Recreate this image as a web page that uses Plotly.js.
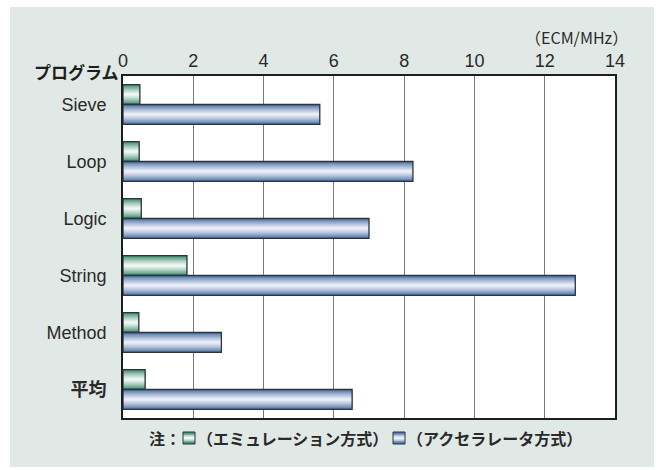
<!DOCTYPE html>
<html>
<head>
<meta charset="utf-8">
<script src="https://cdn.plot.ly/plotly-3.0.1.min.js"></script>
<style>html,body{margin:0;padding:0;background:#fff;}#chart{width:660px;height:470px;}</style>
</head>
<body>
<div id="chart"></div>
<script>
// ---- data ----
const categories = ['Sieve', 'Loop', 'Logic', 'String', 'Method', '平均'];
const categoryLabels = ['Sieve', 'Loop', 'Logic', 'String', 'Method', '<b>平均</b>'];
const emulation = [0.48, 0.46, 0.52, 1.82, 0.45, 0.63];
const accelerator = [5.60, 8.25, 7.00, 12.87, 2.80, 6.52];
const xTickValues = [0, 2, 4, 6, 8, 10, 12, 14];
const seriesNames = ['（エミュレーション方式）', '（アクセラレータ方式）'];

// ---- styling ----
const FONT = 'Liberation Sans, Arial, Noto Sans CJK JP, sans-serif';
const JFONT = 'Noto Sans CJK JP, Liberation Sans, sans-serif';
const TXT = '#2a2a2a';
const W = 0.35;
const N = 9;
const GREEN = ['3c8a6c', 'f0f7f3'];
const BLUE = ['4a6fa3', 'eaeef7'];
function mix(a, b, t) {
  const pa = a.match(/\w\w/g).map(h => parseInt(h, 16));
  const pb = b.match(/\w\w/g).map(h => parseInt(h, 16));
  const r = pa.map((v, i) => Math.round(v + (pb[i] - v) * t));
  return 'rgb(' + r.join(',') + ')';
}
function gradientTraces(values, baseOffset, cols, name) {
  const out = [];
  for (let k = 0; k < N; k++) {
    const t = k / (N - 1);
    const wk = W * (1 - k / N);
    out.push({
      type: 'bar', orientation: 'h', y: categories, x: values,
      offset: baseOffset + (W - wk) / 2, width: wk,
      marker: {color: mix(cols[0], cols[1], Math.pow(t, 0.8)), line: {width: 0}},
      name: name, showlegend: false, hoverinfo: 'skip'
    });
  }
  out.push({
    type: 'bar', orientation: 'h', y: categories, x: values,
    offset: baseOffset, width: W,
    marker: {color: 'rgba(0,0,0,0)', line: {width: 1.3, color: '#2b3440'}},
    name: name, showlegend: false, hoverinfo: 'skip'
  });
  return out;
}

const traces = [].concat(
  gradientTraces(emulation, -W, GREEN, seriesNames[0]),
  gradientTraces(accelerator, 0, BLUE, seriesNames[1])
);

// legend (manual, below plot)
const PW = 492, PH = 342;
const px = v => (v - 123) / PW;
const py = v => (418 - v) / PH;
function legendSquare(x0, cols) {
  const s = [];
  const y0 = 432, size = 12;
  for (let k = 0; k < 4; k++) {
    const inset = k * 1.5;
    s.push({type: 'rect', xref: 'paper', yref: 'paper',
      x0: px(x0), x1: px(x0 + size), y0: py(y0 + size - inset), y1: py(y0 + inset),
      fillcolor: mix(cols[0], cols[1], k / 3), line: {width: 0}});
  }
  s.push({type: 'rect', xref: 'paper', yref: 'paper',
    x0: px(x0), x1: px(x0 + size), y0: py(y0 + size), y1: py(y0),
    fillcolor: 'rgba(0,0,0,0)', line: {width: 1, color: '#2b3440'}});
  return s;
}

const layout = {
  width: 660, height: 470,
  margin: {l: 123, r: 45, t: 76, b: 52},
  paper_bgcolor: '#ffffff', plot_bgcolor: '#ffffff',
  barmode: 'overlay',
  font: {family: FONT, size: 17, color: TXT},
  xaxis: {
    side: 'top', range: [0, 14], tickvals: xTickValues,
    showgrid: true, gridcolor: '#7a7a7a', gridwidth: 1.2,
    showline: true, linecolor: '#1e1e1e', linewidth: 1.8, mirror: true,
    zeroline: false, ticks: '', tickfont: {size: 18, color: TXT},
    fixedrange: true
  },
  yaxis: {
    type: 'category', autorange: 'reversed',
    tickvals: categories, ticktext: categoryLabels,
    showgrid: false, showline: true, linecolor: '#1e1e1e', linewidth: 1.8, mirror: true,
    ticks: '', ticklabelstandoff: 11, tickfont: {size: 18, color: TXT, family: FONT},
    fixedrange: true
  },
  showlegend: false,
  shapes: [
    {type: 'rect', xref: 'paper', yref: 'paper', layer: 'below',
     x0: px(10), x1: px(654), y0: py(467), y1: py(7),
     fillcolor: '#e1e9e6', line: {width: 0}},
    {type: 'rect', xref: 'paper', yref: 'paper', layer: 'below',
     x0: 0, x1: 1, y0: 0, y1: 1, fillcolor: '#ffffff', line: {width: 0}}
  ].concat(legendSquare(183, GREEN), legendSquare(393, BLUE)),
  annotations: [
    {text: '<b>プログラム</b>', xref: 'paper', yref: 'paper', x: px(121), y: py(71),
     xanchor: 'right', yanchor: 'middle', showarrow: false,
     font: {family: JFONT, size: 17, color: '#1e1e1e'}},
    {text: '（ECM/MHz）', xref: 'paper', yref: 'paper', x: px(630), y: py(37),
     xanchor: 'right', yanchor: 'middle', showarrow: false,
     font: {family: JFONT, size: 16, color: TXT}},
    {text: '<b>注：</b>', xref: 'paper', yref: 'paper', x: px(147), y: py(438),
     xanchor: 'left', yanchor: 'middle', showarrow: false,
     font: {family: JFONT, size: 16, color: TXT}},
    {text: '<b>' + seriesNames[0] + '</b>', xref: 'paper', yref: 'paper', x: px(195), y: py(438),
     xanchor: 'left', yanchor: 'middle', showarrow: false,
     font: {family: JFONT, size: 16, color: TXT}},
    {text: '<b>' + seriesNames[1] + '</b>', xref: 'paper', yref: 'paper', x: px(405), y: py(438),
     xanchor: 'left', yanchor: 'middle', showarrow: false,
     font: {family: JFONT, size: 16, color: TXT}}
  ]
};

Plotly.newPlot('chart', traces, layout, {staticPlot: true, displayModeBar: false});
</script>
</body>
</html>
